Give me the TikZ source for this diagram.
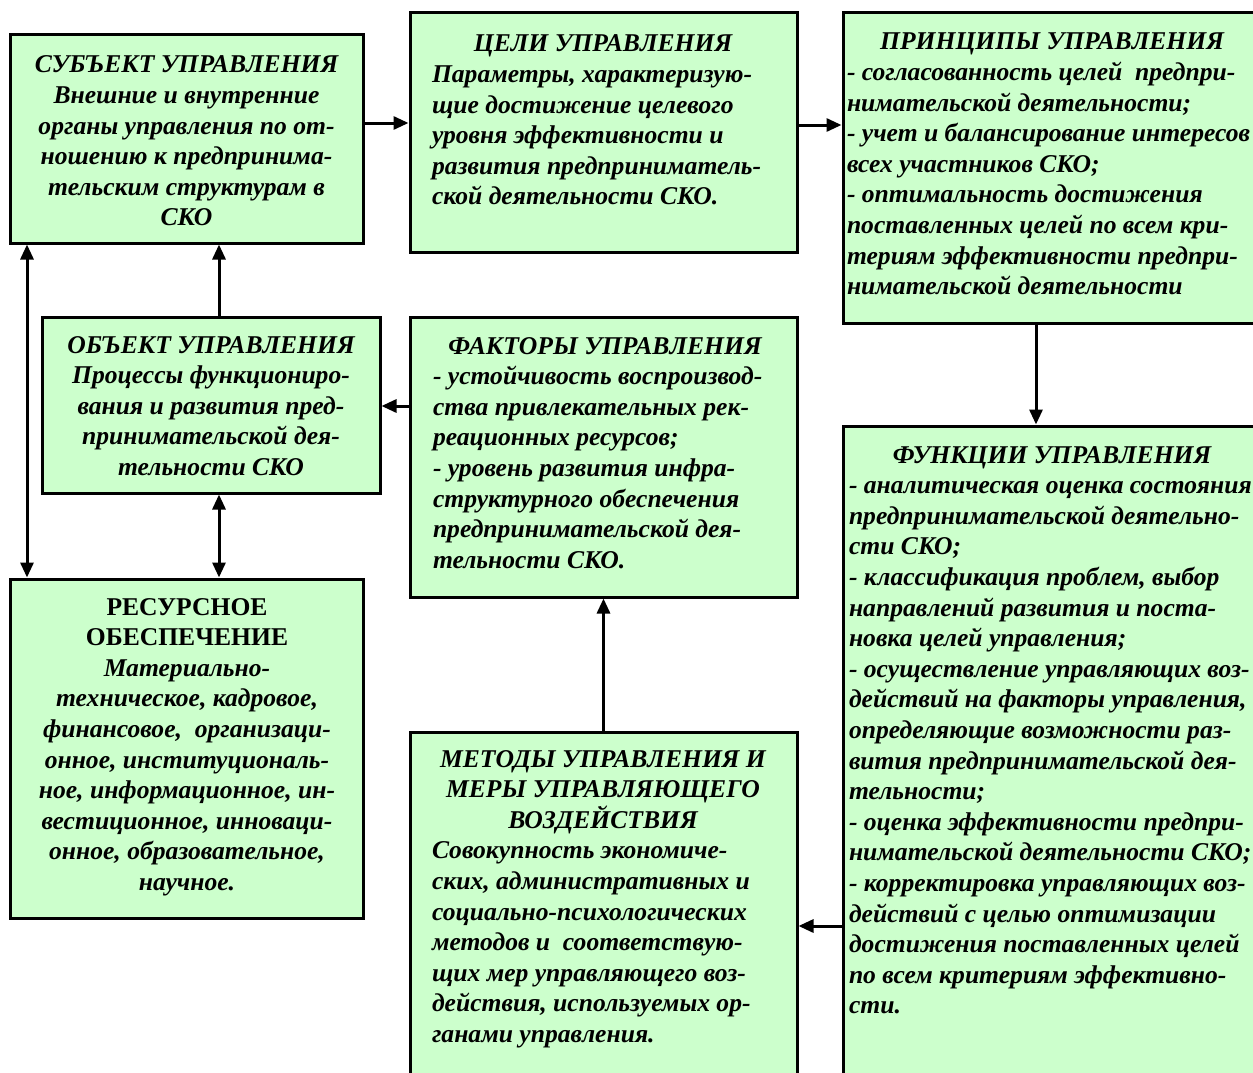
\documentclass[tikz,border=0pt]{standalone}
\usepackage{fontspec}
\setmainfont{Liberation Serif}
\usetikzlibrary{arrows.meta}
\definecolor{boxgreen}{HTML}{CCFFCC}
\newcommand\fs{\fontsize{25.6}{30.6}\selectfont\bfseries\itshape}
\newcommand\cbox[1]{\parbox[t]{700pt}{\fs\centering #1}}
\newcommand\lbox[1]{\parbox[t]{700pt}{\fs\raggedright #1}}
\newcommand\hd[2]{\makebox[#1pt][c]{#2}}
\tikzset{
  box/.style={draw=black, line width=3pt, fill=boxgreen, rectangle, inner sep=0pt},
  txt/.style={inner sep=0pt, outer sep=0pt},
  arr/.style={line width=3pt, -{Triangle[length=15pt,width=13pt]}},
  dbl/.style={line width=3pt, {Triangle[length=15pt,width=13pt]}-{Triangle[length=15pt,width=13pt]}}
}
\begin{document}
\begin{tikzpicture}[x=1pt,y=-1pt]
\clip (0,0) rectangle (1253,1073);
\fill[white] (0,0) rectangle (1253,1073);
% boxes
\node[box, minimum width=353pt, minimum height=208pt] (subj) at (186.5,139) {};
\node[box, minimum width=387pt, minimum height=239pt] (goals) at (603.5,132.5) {};
\node[box, minimum width=415pt, minimum height=310pt] (princ) at (1050.5,168) {};
\node[box, minimum width=338pt, minimum height=176pt] (obj) at (211,405) {};
\node[box, minimum width=387pt, minimum height=280pt] (fact) at (603.5,457) {};
\node[box, minimum width=353pt, minimum height=339pt] (res) at (186.5,748.5) {};
\node[box, minimum width=387pt, minimum height=358pt] (meth) at (603.5,911) {};
\node[box, minimum width=415pt, minimum height=664pt] (func) at (1050.5,758) {};
% texts
\node[txt, anchor=base] (subjT) at (186.5,73) {\cbox{СУБЪЕКТ УПРАВЛЕНИЯ\\
Внешние и внутренние\\
органы управления по от-\\
ношению к предпринима-\\
тельским структурам в\\
СКО}};
\node[txt, anchor=base west] (goalsT) at (432,52) {\lbox{\hd{342}{ЦЕЛИ УПРАВЛЕНИЯ}\\
Параметры, характеризую-\\
щие достижение целевого\\
уровня эффективности и\\
развития предприниматель-\\
ской деятельности СКО.}};
\node[txt, anchor=base west] (princT) at (847,50) {\lbox{\hd{410}{ПРИНЦИПЫ УПРАВЛЕНИЯ}\\
- согласованность целей\ \ предпри-\\
нимательской деятельности;\\
- учет и балансирование интересов\\
всех участников СКО;\\
- оптимальность достижения\\
поставленных целей по всем кри-\\
териям эффективности предпри-\\
нимательской деятельности}};
\node[txt, anchor=base] (objT) at (211,353) {\cbox{ОБЪЕКТ УПРАВЛЕНИЯ\\
Процессы функциониро-\\
вания и развития пред-\\
принимательской дея-\\
тельности СКО}};
\node[txt, anchor=base west] (factT) at (433,354) {\lbox{\hd{344}{ФАКТОРЫ УПРАВЛЕНИЯ}\\
- устойчивость воспроизвод-\\
ства привлекательных рек-\\
реационных ресурсов;\\
- уровень развития инфра-\\
структурного обеспечения\\
предпринимательской дея-\\
тельности СКО.}};
\node[txt, anchor=base] (resT) at (187,615) {\cbox{{\upshape РЕСУРСНОЕ\\
ОБЕСПЕЧЕНИЕ}\\
Материально-\\
техническое, кадровое,\\
финансовое,\ \ организаци-\\
онное, институциональ-\\
ное, информационное, ин-\\
вестиционное, инноваци-\\
онное, образовательное,\\
научное.}};
\node[txt, anchor=base west] (methT) at (432,767) {\lbox{\hd{342}{МЕТОДЫ УПРАВЛЕНИЯ И}\\
\hd{342}{МЕРЫ УПРАВЛЯЮЩЕГО}\\
\hd{342}{ВОЗДЕЙСТВИЯ}\\
Совокупность экономиче-\\
ских, административных и\\
социально-психологических\\
методов и\ \ соответствую-\\
щих мер управляющего воз-\\
действия, используемых ор-\\
ганами управления.}};
\node[txt, anchor=base west] (funcT) at (849,463) {\lbox{\hd{406}{ФУНКЦИИ УПРАВЛЕНИЯ}\\
- аналитическая оценка состояния\\
предпринимательской деятельно-\\
сти СКО;\\
- классификация проблем, выбор\\
направлений развития и поста-\\
новка целей управления;\\
- осуществление управляющих воз-\\
действий на факторы управления,\\
определяющие возможности раз-\\
вития предпринимательской дея-\\
тельности;\\
- оценка эффективности предпри-\\
нимательской деятельности СКО;\\
- корректировка управляющих воз-\\
действий с целью оптимизации\\
достижения поставленных целей\\
по всем критериям эффективно-\\
сти.}};
% connectors
\coordinate (a1) at ([yshift=16pt]subj.east);
\draw[arr] (a1) -- (a1 -| goals.west);
\coordinate (a2) at ([yshift=7.5pt]goals.east);
\draw[arr] (a2) -- (a2 -| princ.west);
\coordinate (a3) at ([xshift=-14.5pt]princ.south);
\draw[arr] (a3) -- (a3 |- func.north);
\coordinate (a4) at ([yshift=-168pt]func.west);
\draw[arr] (a4) -- (a4 -| meth.east);
\draw[arr] (meth.north) -- (fact.south);
\coordinate (a6) at ([yshift=51pt]fact.west);
\draw[arr] (a6) -- (a6 -| obj.east);
\coordinate (a7) at ([xshift=8pt]obj.north);
\draw[arr] (a7) -- (a7 |- subj.south);
\coordinate (a8) at ([xshift=-159.5pt]subj.south);
\draw[dbl] (a8) -- (a8 |- res.north);
\coordinate (a9) at ([xshift=8pt]obj.south);
\draw[dbl] (a9) -- (a9 |- res.north);
\end{tikzpicture}
\end{document}
